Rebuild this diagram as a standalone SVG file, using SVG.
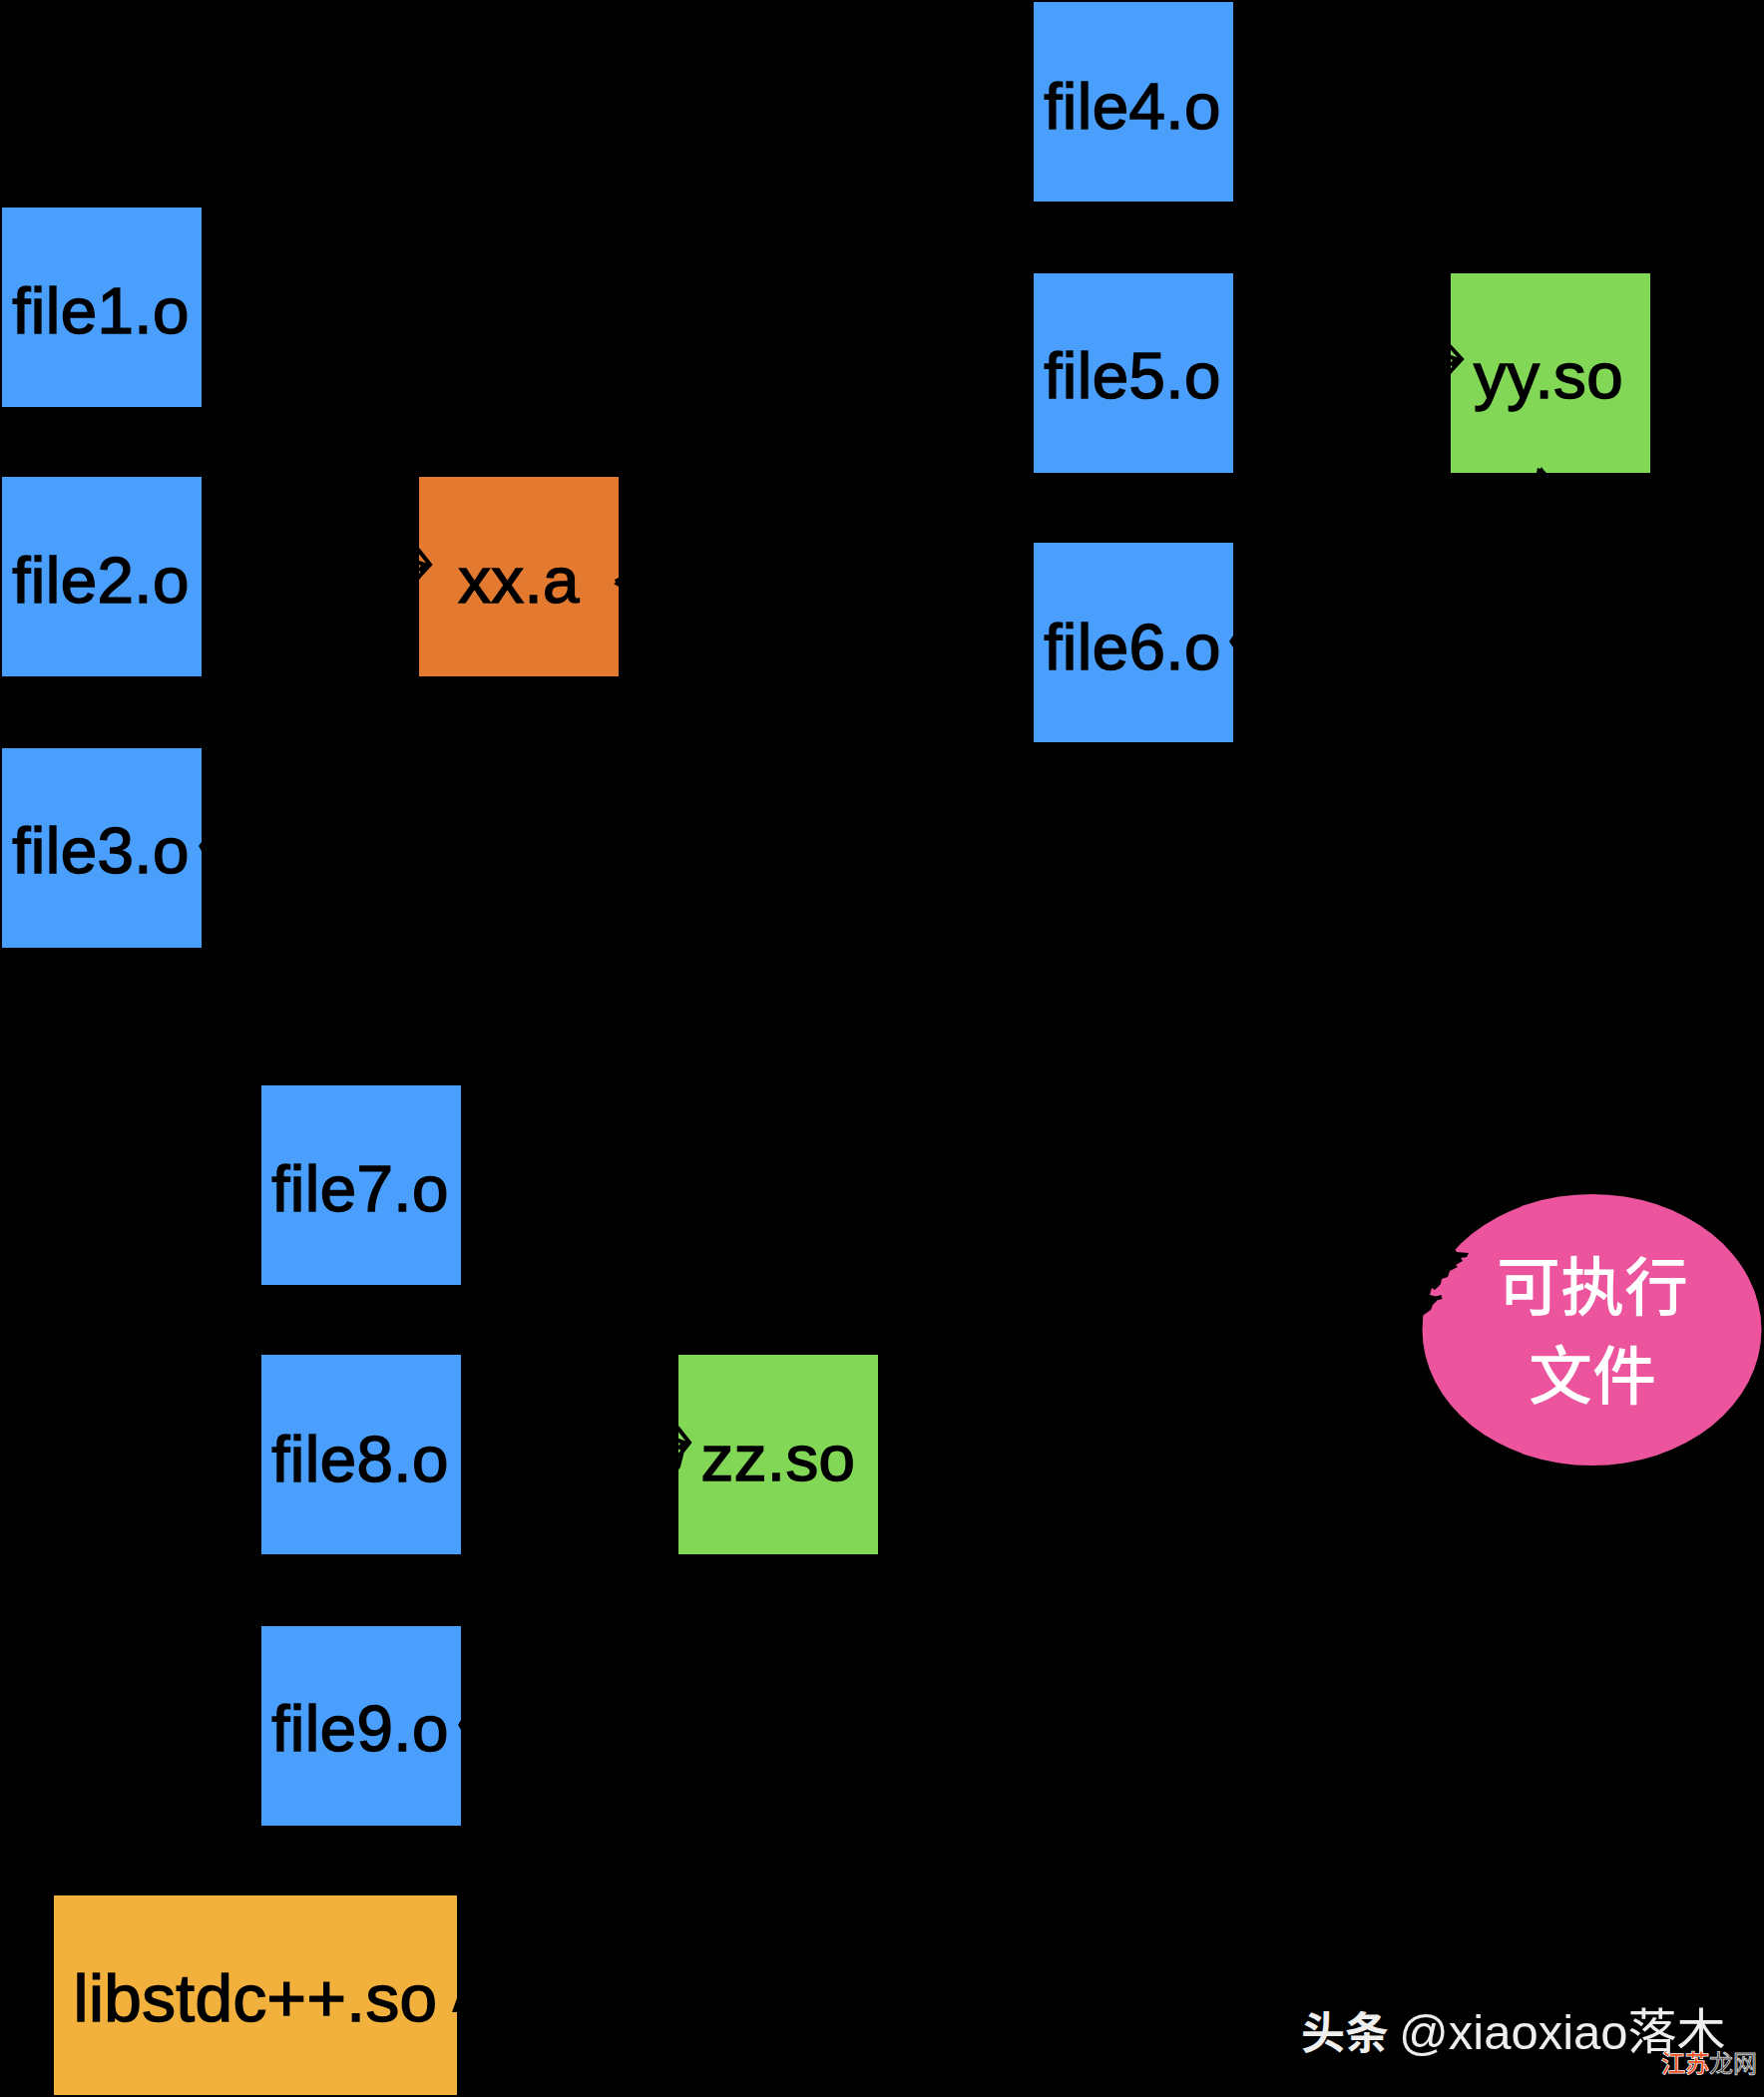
<svg xmlns="http://www.w3.org/2000/svg" width="1768" height="2102" viewBox="0 0 1768 2102">
<style>
.lbl{font-family:"Liberation Sans",Arial,sans-serif;font-size:65.5px;letter-spacing:.4px;fill:#000;stroke:#000;stroke-width:1.5px;text-anchor:middle}
.cjk{font-family:"Noto Sans CJK SC",sans-serif;font-size:64px;font-weight:500;fill:#fff;text-anchor:middle}
.blue{fill:#4a9ffc}.green{fill:#82d757}.orange{fill:#e47a30}.amber{fill:#f2b13c}.pink{fill:#ec549e}
.c{fill:none;stroke:#000;stroke-width:4}
.k{fill:#000}
.wm{font-family:"Liberation Sans","Noto Sans CJK SC",sans-serif;font-size:49px;fill:#eee;text-anchor:start}
.wb{font-family:"Noto Sans CJK SC",sans-serif;font-size:44px;font-weight:700;fill:#eee}
.w1{font-family:"Noto Sans CJK SC",sans-serif;font-size:24px;fill:#f04e1f;paint-order:stroke;stroke:#fff;stroke-width:1.5px}
.w2{font-family:"Noto Sans CJK SC",sans-serif;font-size:24px;fill:#111;stroke:#ccc;stroke-width:1px}
</style>
<rect width="1768" height="2102" fill="#000"/>
<g id="file1"><rect class="blue" x="2" y="208" width="200" height="200"/><text class="lbl" x="101" y="334">file1.o</text></g>
<g id="file2"><rect class="blue" x="2" y="478" width="200" height="200"/><text class="lbl" x="101" y="604">file2.o</text></g>
<g id="file3"><rect class="blue" x="2" y="750" width="200" height="200"/><text class="lbl" x="101" y="875">file3.o</text></g>
<g id="file4"><rect class="blue" x="1036" y="2" width="200" height="200"/><text class="lbl" x="1135" y="129">file4.o</text></g>
<g id="file5"><rect class="blue" x="1036" y="274" width="200" height="200"/><text class="lbl" x="1135" y="399">file5.o</text></g>
<g id="file6"><rect class="blue" x="1036" y="544" width="200" height="200"/><text class="lbl" x="1135" y="671">file6.o</text></g>
<g id="file7"><rect class="blue" x="262" y="1088" width="200" height="200"/><text class="lbl" x="361" y="1214">file7.o</text></g>
<g id="file8"><rect class="blue" x="262" y="1358" width="200" height="200"/><text class="lbl" x="361" y="1485">file8.o</text></g>
<g id="file9"><rect class="blue" x="262" y="1630" width="200" height="200"/><text class="lbl" x="361" y="1755">file9.o</text></g>
<g id="xxa"><rect class="orange" x="420" y="478" width="200" height="200"/><text class="lbl" x="520" y="604">xx.a</text></g>
<g id="yyso"><rect class="green" x="1454" y="274" width="200" height="200"/><text class="lbl" x="1552" y="399">yy.so</text></g>
<g id="zzso"><rect class="green" x="680" y="1358" width="200" height="200"/><text class="lbl" x="780" y="1484">zz.so</text></g>
<g id="libstdc"><rect class="amber" x="54" y="1900" width="404" height="200"/><text class="lbl" x="256" y="2026" style="font-size:67.5px">libstdc++.so</text></g>
<g id="exe"><ellipse class="pink" cx="1595.5" cy="1333" rx="170" ry="136"/><text class="cjk" x="1596" y="1313">可执行</text><text class="cjk" x="1596" y="1402">文件</text></g>
<g id="connectors">
<path class="c" d="M206 312L420 552L431 566L420 578M206 578L420 564L426 566L420 572M206 846L420 578"/>
<path class="c" d="M1240 106L1454 348L1465 360L1454 372M1240 374L1454 358L1460 360L1454 366M1240 640L1454 372"/>
<path class="c" d="M466 1192L680 1432L691 1446L680 1460M466 1458L680 1444L686 1446L680 1452M466 1726L680 1470L686 1446"/>
<path class="k" d="M202 844L199 848L202 853Z"/>
<path class="k" d="M1236 637L1232 643L1236 649Z"/>
<path class="k" d="M462 1724L459 1729L462 1734Z"/>
<path class="k" d="M458 2003L453 2017L458 2017Z"/>
<path class="k" d="M620 579L616 581L617 584L615 585L620 588Z"/>
<path class="k" d="M1540 474L1541 469L1544 470L1545 468L1547 471L1550 474Z"/>
<path class="k" d="M1451 1251L1458 1252L1460 1255L1472 1256L1470 1260L1464 1261L1466 1264L1459 1268L1461 1270L1453 1274L1451 1280L1445 1282L1444 1287L1438 1293L1435 1291L1433 1298L1441 1300L1440 1304L1436 1308L1434 1313L1427 1318L1420 1300L1430 1270Z"/>
<path class="c" d="M624 586L1440 1290M1240 646L1440 1290M1546 478L1450 1270M884 1458L1445 1300M462 2012L1430 1310"/>
</g>
<g id="watermark">
<text class="wb" x="1304" y="2054">头条</text>
<text class="wm" x="1402" y="2054">@xiaoxiao落木</text>
<text class="w1" x="1665" y="2077">江苏</text>
<text class="w2" x="1713" y="2077">龙网</text>
</g>
</svg>
